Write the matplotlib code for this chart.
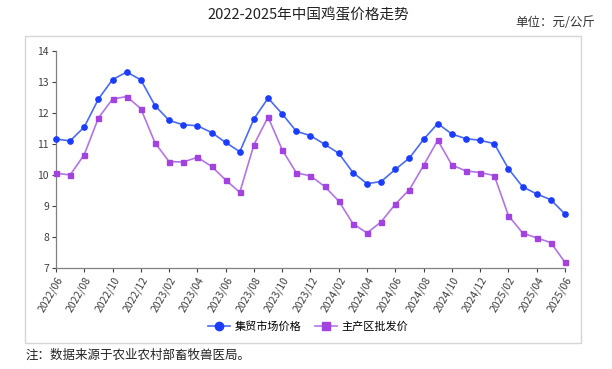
import numpy as np
import matplotlib
matplotlib.use("Agg")
import matplotlib.pyplot as plt
from matplotlib.patches import Rectangle
from matplotlib.lines import Line2D

plt.rcParams["font.family"] = ["Noto Sans CJK SC", "DejaVu Sans"]

# monthly, 2022/06 .. 2025/06
months = []
for y in range(2022, 2026):
    for m in range(1, 13):
        if (y == 2022 and m < 6) or (y == 2025 and m > 6):
            continue
        months.append(f"{y}/{m:02d}")

market = [11.16, 11.10, 11.55, 12.45, 13.08, 13.32, 13.07, 12.24, 11.76, 11.62,
          11.59, 11.37, 11.05, 10.75, 11.81, 12.48, 11.97, 11.41, 11.27, 10.99,
          10.70, 10.08, 9.72, 9.79, 10.18, 10.55, 11.15, 11.66, 11.32, 11.17,
          11.12, 11.01, 10.20, 9.62, 9.39, 9.20, 8.74]
wholesale = [10.06, 10.00, 10.66, 11.84, 12.45, 12.53, 12.14, 11.04, 10.43, 10.42,
             10.57, 10.28, 9.84, 9.44, 10.98, 11.87, 10.81, 10.07, 9.97, 9.63,
             9.16, 8.43, 8.13, 8.49, 9.06, 9.53, 10.31, 11.12, 10.32, 10.13,
             10.08, 9.98, 8.69, 8.13, 7.97, 7.82, 7.18]

series_names = ["集贸市场价格", "主产区批发价"]

BLUE_LINE = "#4a6cf5"
BLUE_MARK = "#1a3cff"
PURPLE_LINE = "#b374e6"
PURPLE_MARK = "#a243e0"

fig = plt.figure(figsize=(6.12, 3.69), dpi=100)

# light frame around the chart area
fig.patches.append(Rectangle((25 / 612, 1 - 343 / 369), (581 - 25) / 612, (343 - 36) / 369,
                             transform=fig.transFigure, fill=False,
                             edgecolor="#d6d6d6", linewidth=1.0))

ax = fig.add_axes([56 / 612, 1 - 268 / 369, (565 - 56) / 612, (268 - 51) / 369])
x = np.arange(len(months))
ax.plot(x, market, color=BLUE_LINE, linewidth=1.2, marker="o", markersize=3.8,
        markerfacecolor=BLUE_MARK, markeredgecolor=BLUE_MARK, clip_on=False, zorder=3)
ax.plot(x, wholesale, color=PURPLE_LINE, linewidth=1.2, marker="s", markersize=3.6,
        markerfacecolor=PURPLE_MARK, markeredgecolor=PURPLE_MARK, clip_on=False, zorder=3)

ax.set_xlim(0, len(months) - 1)
ax.set_ylim(7, 14)
ax.set_yticks(range(7, 15))
ax.set_xticks(x[::2])
ax.set_xticklabels(months[::2], rotation=60, ha="right", rotation_mode="anchor",
                   fontsize=7.5, color="#404040")
ax.tick_params(axis="y", labelsize=7.5, colors="#404040", length=3, width=0.8, pad=2)
ax.tick_params(axis="x", length=3, width=0.8, pad=2, colors="#404040")
for s in ["top", "right"]:
    ax.spines[s].set_visible(False)
for s in ["left", "bottom"]:
    ax.spines[s].set_color("#808080")
    ax.spines[s].set_linewidth(0.9)

handles = [
    Line2D([], [], color=BLUE_LINE, marker="o", markersize=6, markerfacecolor=BLUE_MARK,
           markeredgecolor=BLUE_MARK, linewidth=1.2),
    Line2D([], [], color=PURPLE_LINE, marker="s", markersize=6, markerfacecolor=PURPLE_MARK,
           markeredgecolor=PURPLE_MARK, linewidth=1.2),
]
fig.legend(handles, series_names, loc="center", bbox_to_anchor=(0.503, 1 - 327 / 369),
           ncol=2, frameon=False, fontsize=8, handlelength=2.0, columnspacing=1.2,
           handletextpad=0.4)

fig.text(0.503, 1 - 15 / 369, "2022-2025年中国鸡蛋价格走势", ha="center", va="center",
         fontsize=10.5, color="#222222")
fig.text(595 / 612, 1 - 22 / 369, "单位：元/公斤", ha="right", va="center",
         fontsize=9, color="#333333")
fig.text(26 / 612, 1 - 355 / 369, "注：数据来源于农业农村部畜牧兽医局。", ha="left",
         va="center", fontsize=9, color="#222222")

fig.savefig("out.png", dpi=100)
